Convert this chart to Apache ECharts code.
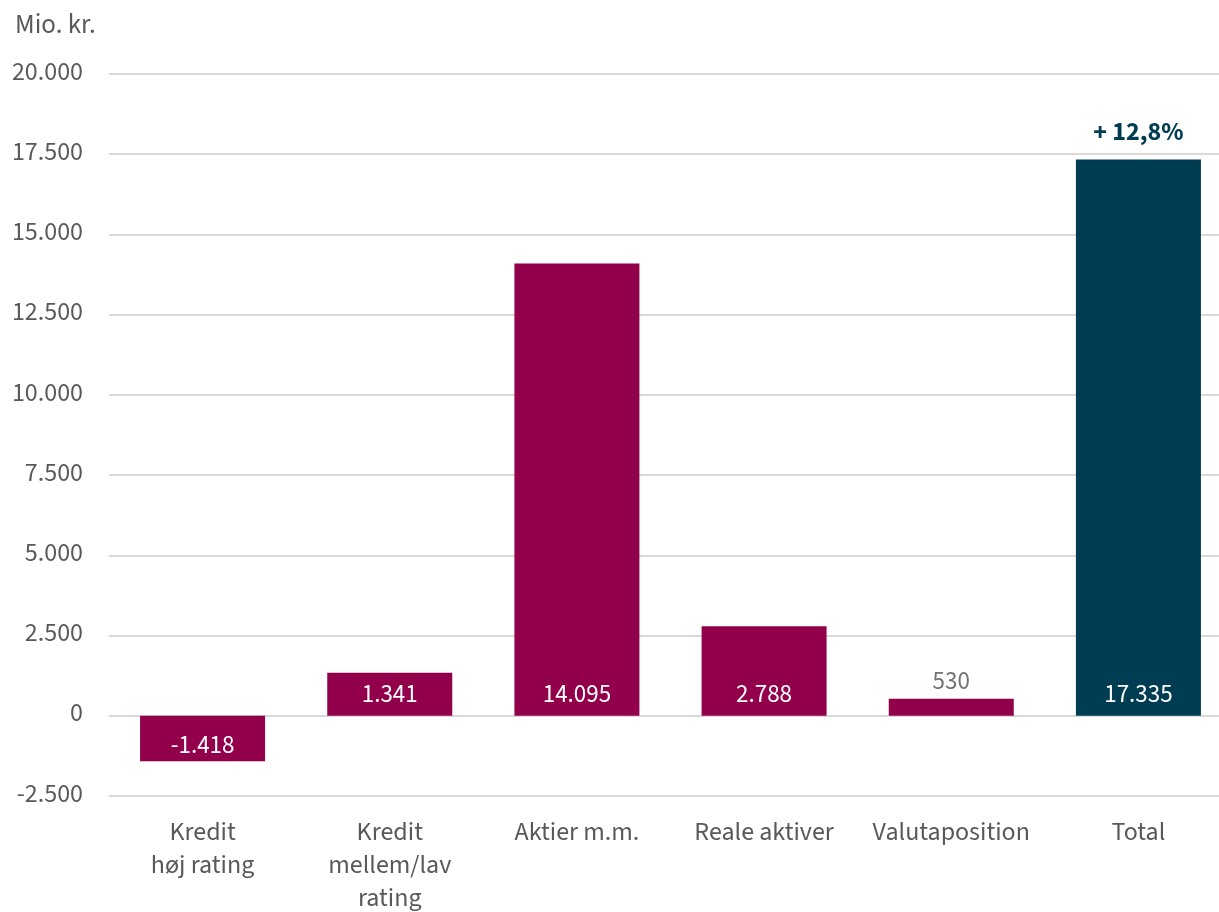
<!DOCTYPE html>
<html><head><meta charset="utf-8">
<script src="https://cdn.jsdelivr.net/npm/echarts@6/dist/echarts.min.js"></script>
<style>html,body{margin:0;padding:0;background:#fff;overflow:hidden}#c{width:1219px;height:912px}</style>
</head><body><div id="c"></div>
<script>
const categories = ['Kredit\nhøj rating', 'Kredit\nmellem/lav\nrating', 'Aktier m.m.', 'Reale aktiver', 'Valutaposition', 'Total'];
const values = [-1418, 1341, 14095, 2788, 530, 17335];
const totalNote = '+ 12,8%';
const yTicks = { min: -2500, max: 20000, interval: 2500 };
const unitLabel = 'Mio. kr.';

const FONT = '"Source Sans Pro", "Source Sans 3", Lato, "Noto Sans", sans-serif';
const magenta = '#92004B', teal = '#003D52', gray = '#595959';
const fmt = v => { const s = Math.abs(v).toString().replace(/\B(?=(\d{3})+(?!\d))/g, '.'); return (v < 0 ? '-' : '') + s; };

const data = values.map((v, i) => {
  const isTotal = i === values.length - 1;
  const small = v > 0 && v < 1000;
  const d = { value: v, itemStyle: { color: isTotal ? teal : magenta } };
  if (small) {
    d.label = { position: 'top', color: '#757171', distance: 3 };
  } else if (v < 0) {
    d.label = { position: 'insideBottom', distance: 1 };
  } else {
    d.label = { position: 'insideBottom', distance: 7 };
  }
  return d;
});

const chart = echarts.init(document.getElementById('c'), null, { renderer: 'canvas', width: 1219, height: 912 });
chart.setOption({
  animation: false,
  textStyle: { fontFamily: FONT },
  title: { text: unitLabel, left: 10, top: 9, textStyle: { fontFamily: FONT, fontSize: 27, fontWeight: 'normal', color: gray } },
  grid: { left: 109, width: 1123, top: 74, height: 722, containLabel: false, outerBoundsMode: 'none' },
  xAxis: {
    type: 'category', data: categories,
    axisLine: { show: false }, axisTick: { show: false },
    axisLabel: { color: gray, fontSize: 26, fontFamily: FONT, margin: 22, lineHeight: 33, interval: 0 }
  },
  yAxis: {
    type: 'value', min: yTicks.min, max: yTicks.max, interval: yTicks.interval,
    axisLine: { show: false }, axisTick: { show: false },
    splitLine: { lineStyle: { color: '#d9d9d9', width: 2 } },
    axisLabel: { color: gray, fontSize: 26, fontFamily: FONT, margin: 26, formatter: v => fmt(v) }
  },
  series: [{
    type: 'bar', data: data, barWidth: 125,
    label: { show: true, color: '#fff', fontSize: 25, fontFamily: FONT, formatter: p => fmt(p.value) },
    markPoint: {
      symbol: 'circle', symbolSize: 0,
      data: [{ coord: [values.length - 1, values[values.length - 1]], value: totalNote }],
      label: { show: true, position: 'top', distance: 12, formatter: totalNote, color: teal, fontSize: 26, fontWeight: 'bold', fontFamily: FONT }
    }
  }]
});
</script></body></html>
